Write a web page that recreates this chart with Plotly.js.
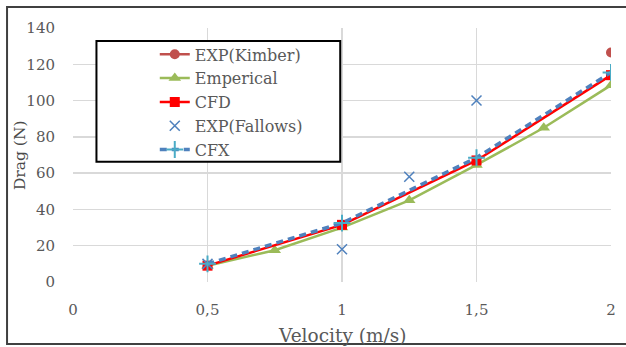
<!DOCTYPE html>
<html>
<head>
<meta charset="utf-8">
<script src="https://cdn.plot.ly/plotly-3.0.1.min.js"></script>
<style>
html,body{margin:0;padding:0;background:#fff;}
#chart{width:626px;height:347px;}
</style>
</head>
<body>
<div id="chart"></div>
<script>
// Data
var xKimber = [2];
var yKimber = [126.5];

var xEmp = [0.5, 0.75, 1, 1.25, 1.5, 1.75, 2];
var yEmp = [9, 17.5, 30, 45, 64.5, 85, 108.5];

var xCFD = [0.5, 1, 1.5, 2];
var yCFD = [9, 31.5, 67, 114];

var xFallows = [0.5, 1, 1.25, 1.5];
var yFallows = [10, 18, 58, 100];

var xCFX = [0.5, 1, 1.5, 2];
var yCFX = [10, 32.5, 68.5, 115.5];

var xTicks = [0, 0.5, 1, 1.5, 2];
var xTickText = ['0', '0,5', '1', '1,5', '2'];
var yTicks = [0, 20, 40, 60, 80, 100, 120, 140];

var xTitle = 'Velocity (m/s)';
var yTitle = 'Drag (N)';

var FONT = 'DejaVu Serif, Liberation Serif, serif';
var TXT = '#595959';

var traces = [
  {x: xKimber, y: yKimber, name: 'EXP(Kimber)', mode: 'lines+markers',
   line: {color: '#c0504d', width: 2.5},
   marker: {symbol: 'circle', size: 10, color: '#c0504d'}},
  {x: xEmp, y: yEmp, name: 'Emperical', mode: 'lines+markers',
   line: {color: '#9bbb59', width: 2.5},
   marker: {symbol: 'triangle-up', size: 11, color: '#9bbb59'}},
  {x: xCFD, y: yCFD, name: 'CFD', mode: 'lines+markers',
   line: {color: '#ff0000', width: 2.5},
   marker: {symbol: 'square', size: 10, color: '#ff0000'}},
  {x: xFallows, y: yFallows, name: 'EXP(Fallows)', mode: 'markers',
   marker: {symbol: 'x-thin-open', size: 10, line: {color: '#4f81bd', width: 1.5}, color: '#4f81bd'}},
  {x: xCFX, y: yCFX, name: 'CFX', mode: 'lines+markers',
   line: {color: '#4f81bd', width: 3.5, dash: '7px,5px'},
   marker: {symbol: 'cross-thin-open', size: 12, line: {color: '#4bacc6', width: 2}, color: '#4bacc6'}}
];

var layout = {
  width: 626, height: 347,
  margin: {l: 73, r: 14.5, t: 28, b: 65, pad: 0},
  paper_bgcolor: '#ffffff', plot_bgcolor: '#ffffff',
  font: {family: FONT, size: 14, color: TXT},
  showlegend: true,
  legend: {
    x: 0.152, y: 0.963, xanchor: 'left', yanchor: 'top',
    bgcolor: 'rgba(0,0,0,0)', borderwidth: 0,
    font: {family: FONT, size: 16, color: TXT},
    tracegroupgap: 0
  },
  xaxis: {
    range: [0, 2], tickvals: xTicks, ticktext: xTickText,
    showgrid: true, gridcolor: '#d9d9d9', gridwidth: 1.3,
    zeroline: false, showline: false,
    ticks: 'outside', ticklen: 14, tickcolor: 'rgba(0,0,0,0)',
    tickfont: {family: FONT, size: 15, color: TXT}
  },
  yaxis: {
    range: [0, 140], tickvals: yTicks,
    showgrid: true, gridcolor: '#d9d9d9', gridwidth: 1.3,
    zeroline: false, showline: false,
    ticks: 'outside', ticklen: 14, tickcolor: 'rgba(0,0,0,0)',
    tickfont: {family: FONT, size: 15, color: TXT}
  },
  annotations: [
    {text: xTitle, xref: 'paper', yref: 'paper', x: 0.5, y: -0.2087,
     xanchor: 'center', yanchor: 'middle', showarrow: false,
     font: {family: FONT, size: 18.5, color: TXT}},
    {text: yTitle, xref: 'paper', yref: 'paper', x: -0.0984, y: 0.5,
     xanchor: 'center', yanchor: 'middle', showarrow: false, textangle: -90,
     font: {family: FONT, size: 15.5, color: '#4a4a4a'}}
  ],
  shapes: [
    {type: 'rect', xref: 'paper', yref: 'paper',
     x0: -0.1226, x1: 1.05, y0: -0.244, y1: 1.0827,
     line: {color: '#404040', width: 2}, fillcolor: 'rgba(0,0,0,0)', layer: 'below'},
    {type: 'rect', xref: 'paper', yref: 'paper',
     x0: 0.0436, x1: 0.4967, y0: 0.4736, y1: 0.9488,
     line: {color: '#000000', width: 2}, fillcolor: '#ffffff', layer: 'above'}
  ]
};

Plotly.newPlot('chart', traces, layout, {displayModeBar: false, staticPlot: true});
</script>
</body>
</html>
